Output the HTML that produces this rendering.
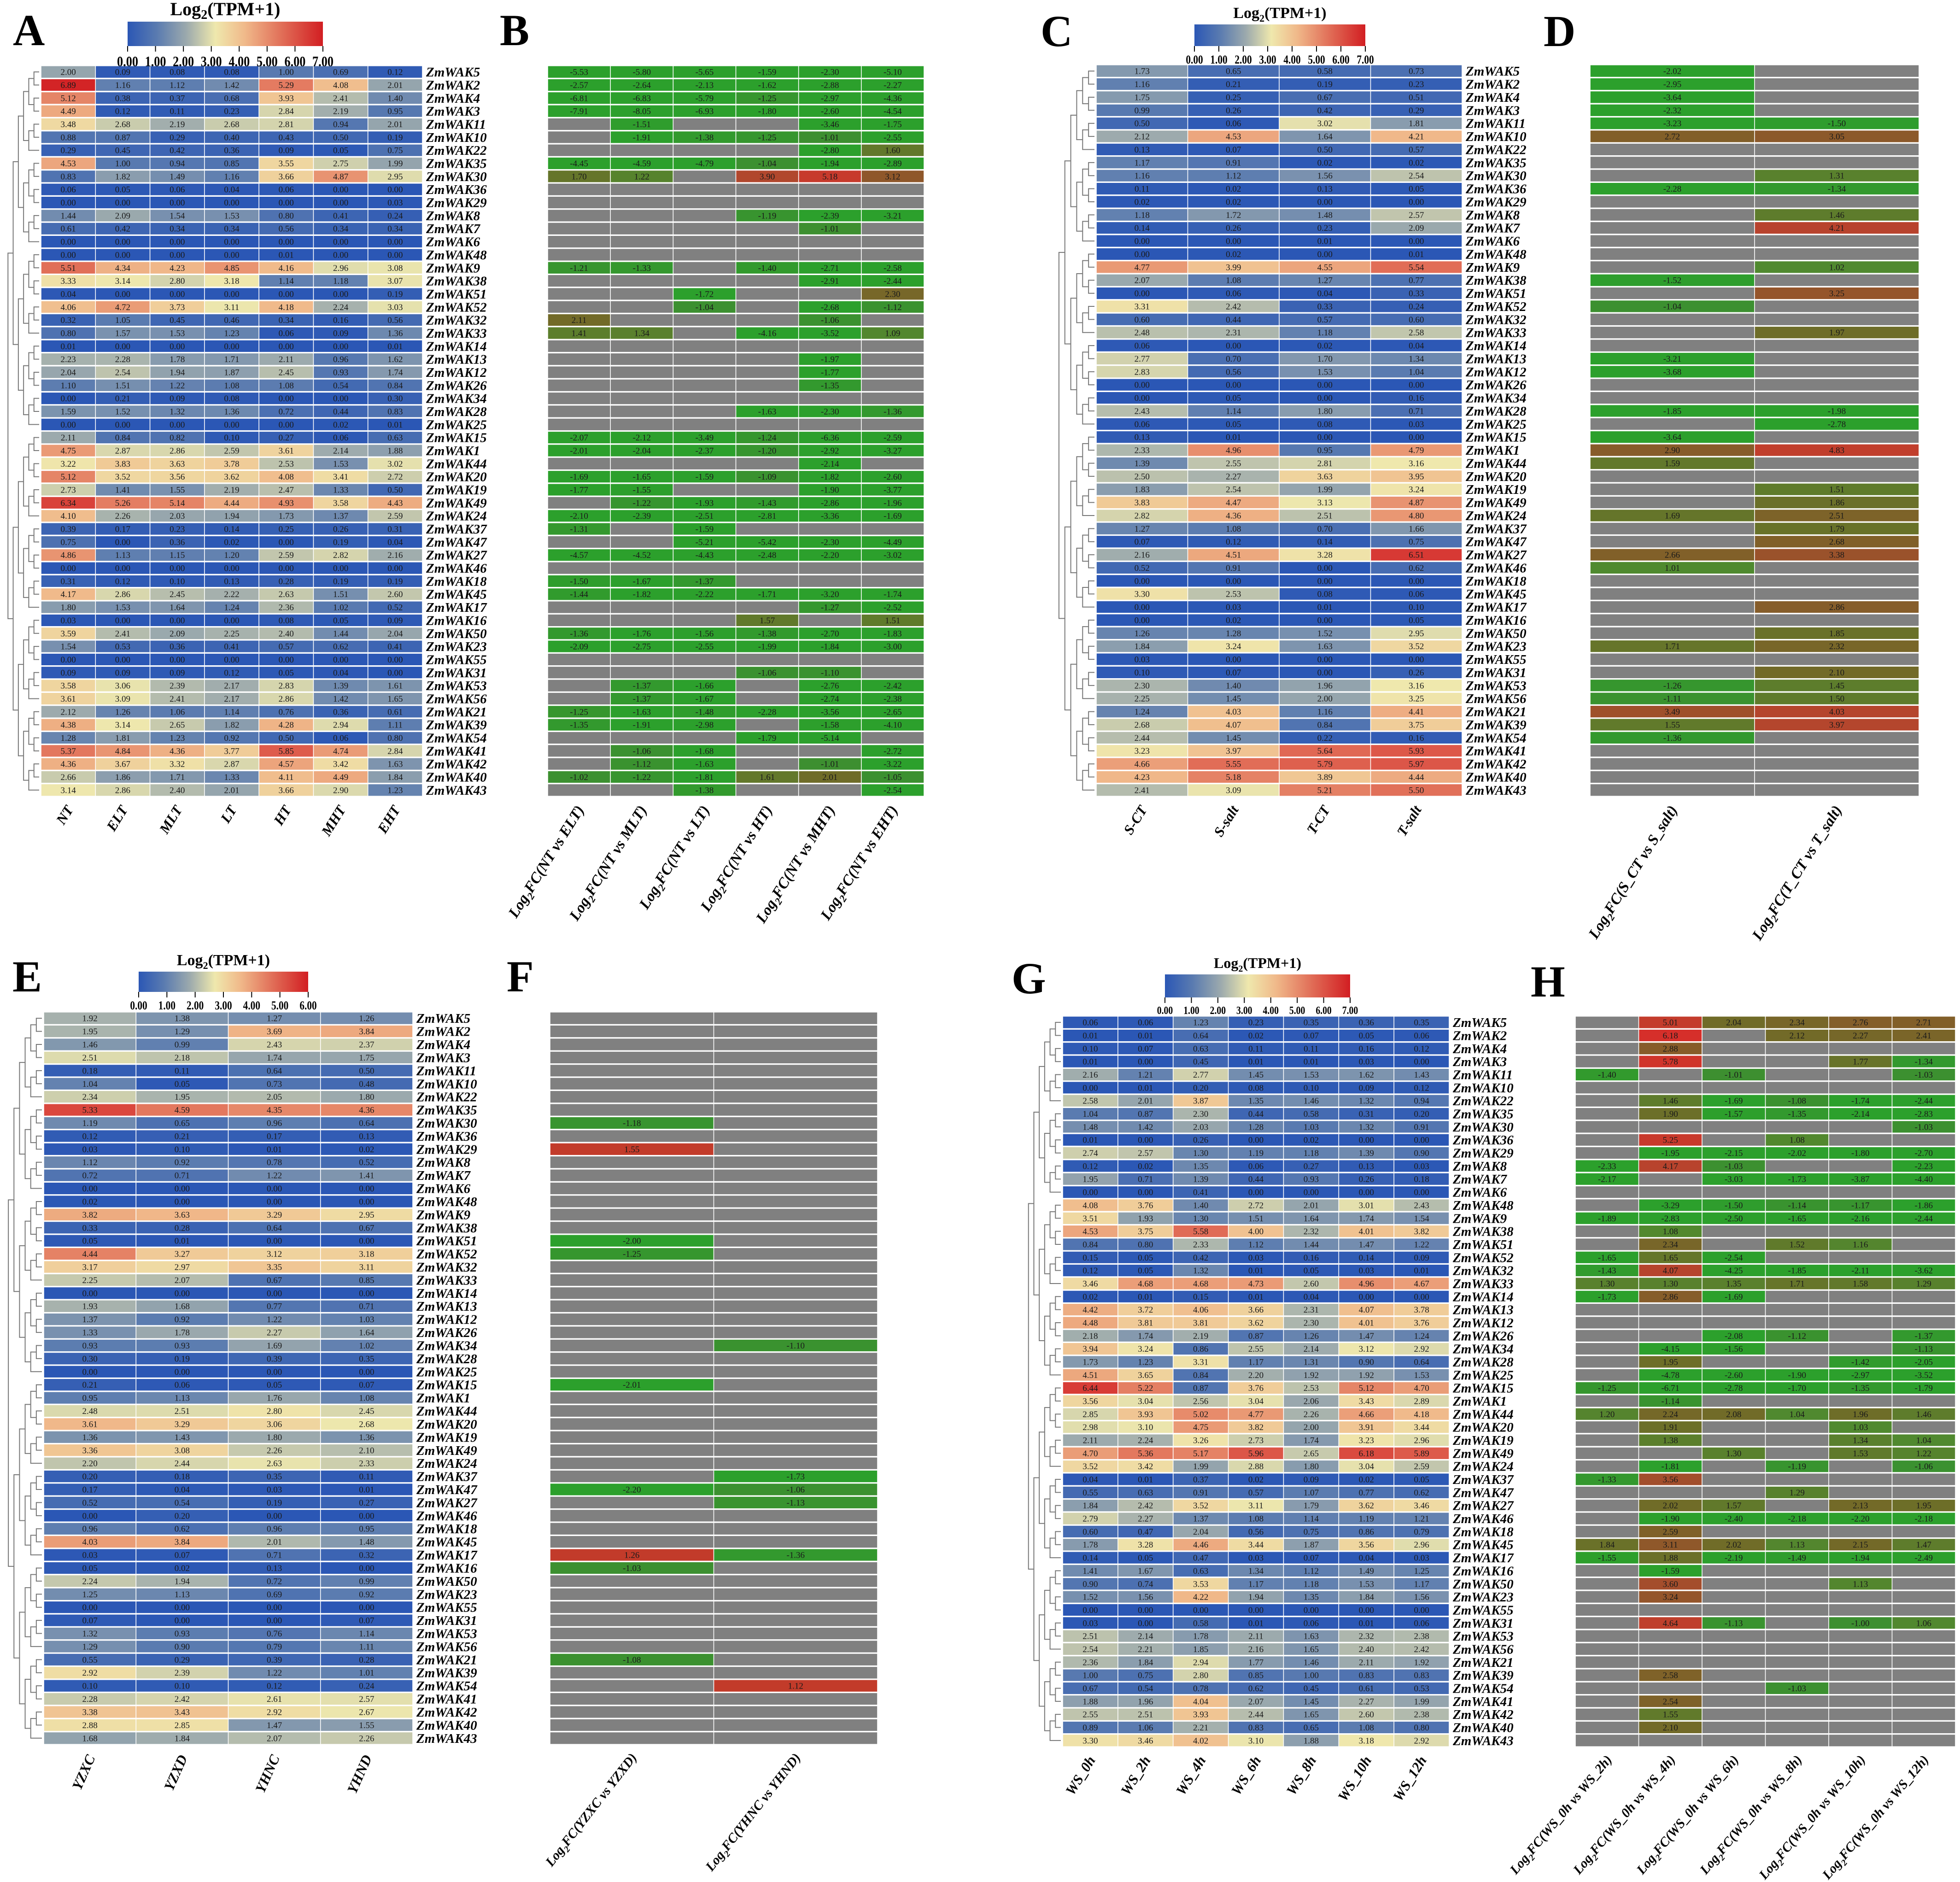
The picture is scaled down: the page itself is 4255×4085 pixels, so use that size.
<!DOCTYPE html>
<html><head><meta charset="utf-8">
<style>
html,body{margin:0;padding:0;background:#fff;}
svg{display:block;}
text{font-family:"Liberation Serif",serif;}
</style></head>
<body>
<svg id="fig" width="4255" height="4085" viewBox="0 0 4255 4085" xmlns="http://www.w3.org/2000/svg">
<defs>
<linearGradient id="cb" x1="0" x2="1" y1="0" y2="0">
<stop offset="0" stop-color="#2b57b5"/><stop offset="0.15" stop-color="#5a7bb0"/><stop offset="0.3" stop-color="#9ba9ad"/><stop offset="0.45" stop-color="#efe8ad"/><stop offset="0.6" stop-color="#f0b98a"/><stop offset="0.8" stop-color="#e06a55"/><stop offset="1" stop-color="#d21e22"/>
</linearGradient>
</defs>
</svg>
<script>
const N = null;
const genesA = ["ZmWAK5","ZmWAK2","ZmWAK4","ZmWAK3","ZmWAK11","ZmWAK10","ZmWAK22","ZmWAK35","ZmWAK30","ZmWAK36","ZmWAK29","ZmWAK8","ZmWAK7","ZmWAK6","ZmWAK48","ZmWAK9","ZmWAK38","ZmWAK51","ZmWAK52","ZmWAK32","ZmWAK33","ZmWAK14","ZmWAK13","ZmWAK12","ZmWAK26","ZmWAK34","ZmWAK28","ZmWAK25","ZmWAK15","ZmWAK1","ZmWAK44","ZmWAK20","ZmWAK19","ZmWAK49","ZmWAK24","ZmWAK37","ZmWAK47","ZmWAK27","ZmWAK46","ZmWAK18","ZmWAK45","ZmWAK17","ZmWAK16","ZmWAK50","ZmWAK23","ZmWAK55","ZmWAK31","ZmWAK53","ZmWAK56","ZmWAK21","ZmWAK39","ZmWAK54","ZmWAK41","ZmWAK42","ZmWAK40","ZmWAK43"];
const colsA = ["NT","ELT","MLT","LT","HT","MHT","EHT"];
const colsB = ["NT vs ELT","NT vs MLT","NT vs LT","NT vs HT","NT vs MHT","NT vs EHT"];
const colsC = ["S-CT","S-salt","T-CT","T-salt"];
const colsD = ["S_CT vs S_salt","T_CT vs T_salt"];
const colsE = ["YZXC","YZXD","YHNC","YHND"];
const colsF = ["YZXC vs YZXD","YHNC vs YHND"];
const colsG = ["WS_0h","WS_2h","WS_4h","WS_6h","WS_8h","WS_10h","WS_12h"];
const colsH = ["WS_0h vs WS_2h","WS_0h vs WS_4h","WS_0h vs WS_6h","WS_0h vs WS_8h","WS_0h vs WS_10h","WS_0h vs WS_12h"];
const cbTicks7 = ["0.00","1.00","2.00","3.00","4.00","5.00","6.00","7.00"];
const cbTicks6 = ["0.00","1.00","2.00","3.00","4.00","5.00","6.00"];

const valsA = [
[2.00,0.09,0.08,0.08,1.00,0.69,0.12],[6.89,1.16,1.12,1.42,5.29,4.08,2.01],[5.12,0.38,0.37,0.68,3.93,2.41,1.40],[4.49,0.12,0.11,0.23,2.84,2.19,0.95],
[3.48,2.68,2.19,2.68,2.81,0.94,2.01],[0.88,0.87,0.29,0.40,0.43,0.50,0.19],[0.29,0.45,0.42,0.36,0.09,0.05,0.75],[4.53,1.00,0.94,0.85,3.55,2.75,1.99],
[0.83,1.82,1.49,1.16,3.66,4.87,2.95],[0.06,0.05,0.06,0.04,0.06,0.00,0.00],[0.00,0.00,0.00,0.00,0.00,0.00,0.03],[1.44,2.09,1.54,1.53,0.80,0.41,0.24],
[0.61,0.42,0.34,0.34,0.56,0.34,0.34],[0.00,0.00,0.00,0.00,0.00,0.00,0.00],[0.00,0.00,0.00,0.00,0.01,0.00,0.00],[5.51,4.34,4.23,4.85,4.16,2.96,3.08],
[3.33,3.14,2.80,3.18,1.14,1.18,3.07],[0.04,0.00,0.00,0.00,0.00,0.00,0.19],[4.06,4.72,3.73,3.11,4.18,2.24,3.03],[0.32,1.05,0.45,0.46,0.34,0.16,0.56],
[0.80,1.57,1.53,1.23,0.06,0.09,1.36],[0.01,0.00,0.00,0.00,0.00,0.00,0.01],[2.23,2.28,1.78,1.71,2.11,0.96,1.62],[2.04,2.54,1.94,1.87,2.45,0.93,1.74],
[1.10,1.51,1.22,1.08,1.08,0.54,0.84],[0.00,0.21,0.09,0.08,0.00,0.00,0.30],[1.59,1.52,1.32,1.36,0.72,0.44,0.83],[0.00,0.00,0.00,0.00,0.00,0.02,0.01],
[2.11,0.84,0.82,0.10,0.27,0.06,0.63],[4.75,2.87,2.86,2.59,3.61,2.14,1.88],[3.22,3.83,3.63,3.78,2.53,1.53,3.02],[5.12,3.52,3.56,3.62,4.08,3.41,2.72],
[2.73,1.41,1.55,2.19,2.47,1.33,0.50],[6.34,5.26,5.14,4.44,4.93,3.58,4.43],[4.10,2.26,2.03,1.94,1.73,1.37,2.59],[0.39,0.17,0.23,0.14,0.25,0.26,0.31],
[0.75,0.00,0.36,0.02,0.00,0.19,0.04],[4.86,1.13,1.15,1.20,2.59,2.82,2.16],[0.00,0.00,0.00,0.00,0.00,0.00,0.00],[0.31,0.12,0.10,0.13,0.28,0.19,0.19],
[4.17,2.86,2.45,2.22,2.63,1.51,2.60],[1.80,1.53,1.64,1.24,2.36,1.02,0.52],[0.03,0.00,0.00,0.00,0.08,0.05,0.09],[3.59,2.41,2.09,2.25,2.40,1.44,2.04],
[1.54,0.53,0.36,0.41,0.57,0.62,0.41],[0.00,0.00,0.00,0.00,0.00,0.00,0.00],[0.09,0.09,0.09,0.12,0.05,0.04,0.00],[3.58,3.06,2.39,2.17,2.83,1.39,1.61],
[3.61,3.09,2.41,2.17,2.86,1.42,1.65],[2.12,1.26,1.06,1.14,0.76,0.36,0.61],[4.38,3.14,2.65,1.82,4.28,2.94,1.11],[1.28,1.81,1.23,0.92,0.50,0.06,0.80],
[5.37,4.84,4.36,3.77,5.85,4.74,2.84],[4.36,3.67,3.32,2.87,4.57,3.42,1.63],[2.66,1.86,1.71,1.33,4.11,4.49,1.84],[3.14,2.86,2.40,2.01,3.66,2.90,1.23]];

const valsB = [
[-5.53,-5.80,-5.65,-1.59,-2.30,-5.10],[-2.57,-2.64,-2.13,-1.62,-2.88,-2.27],[-6.81,-6.83,-5.79,-1.25,-2.97,-4.36],[-7.91,-8.05,-6.93,-1.80,-2.60,-4.54],
[N,-1.51,N,N,-3.46,-1.75],[N,-1.91,-1.38,-1.25,-1.01,-2.55],[N,N,N,N,-2.80,1.60],[-4.45,-4.59,-4.79,-1.04,-1.94,-2.89],
[1.70,1.22,N,3.90,5.18,3.12],[N,N,N,N,N,N],[N,N,N,N,N,N],[N,N,N,-1.19,-2.39,-3.21],
[N,N,N,N,-1.01,N],[N,N,N,N,N,N],[N,N,N,N,N,N],[-1.21,-1.33,N,-1.40,-2.71,-2.58],
[N,N,N,N,-2.91,-2.44],[N,N,-1.72,N,N,2.30],[N,N,-1.04,N,-2.68,-1.12],[2.11,N,N,N,-1.06,N],
[1.41,1.34,N,-4.16,-3.52,1.09],[N,N,N,N,N,N],[N,N,N,N,-1.97,N],[N,N,N,N,-1.77,N],
[N,N,N,N,-1.35,N],[N,N,N,N,N,N],[N,N,N,-1.63,-2.30,-1.36],[N,N,N,N,N,N],
[-2.07,-2.12,-3.49,-1.24,-6.36,-2.59],[-2.01,-2.04,-2.37,-1.20,-2.92,-3.27],[N,N,N,N,-2.14,N],[-1.69,-1.65,-1.59,-1.09,-1.82,-2.60],
[-1.77,-1.55,N,N,-1.90,-3.77],[N,-1.22,-1.93,-1.43,-2.86,-1.96],[-2.10,-2.39,-2.51,-2.81,-3.36,-1.69],[-1.31,N,-1.59,N,N,N],
[N,N,-5.21,-5.42,-2.30,-4.49],[-4.57,-4.52,-4.43,-2.48,-2.20,-3.02],[N,N,N,N,N,N],[-1.50,-1.67,-1.37,N,N,N],
[-1.44,-1.82,-2.22,-1.71,-3.20,-1.74],[N,N,N,N,-1.27,-2.52],[N,N,N,1.57,N,1.51],[-1.36,-1.76,-1.56,-1.38,-2.70,-1.83],
[-2.09,-2.75,-2.55,-1.99,-1.84,-3.00],[N,N,N,N,N,N],[N,N,N,-1.06,-1.10,N],[N,-1.37,-1.66,N,-2.76,-2.42],
[N,-1.37,-1.67,N,-2.74,-2.38],[-1.25,-1.63,-1.48,-2.28,-3.56,-2.65],[-1.35,-1.91,-2.98,N,-1.58,-4.10],[N,N,N,-1.79,-5.14,N],
[N,-1.06,-1.68,N,N,-2.72],[N,-1.12,-1.63,N,-1.01,-3.22],[-1.02,-1.22,-1.81,1.61,2.01,-1.05],[N,N,-1.38,N,N,-2.54]];

const valsC = [
[1.73,0.65,0.58,0.73],[1.16,0.21,0.19,0.23],[1.75,0.25,0.67,0.51],[0.99,0.26,0.42,0.29],[0.50,0.06,3.02,1.81],[2.12,4.53,1.64,4.21],
[0.13,0.07,0.50,0.57],[1.17,0.91,0.02,0.02],[1.16,1.12,1.56,2.54],[0.11,0.02,0.13,0.05],[0.02,0.02,0.00,0.00],[1.18,1.72,1.48,2.57],
[0.14,0.26,0.23,2.09],[0.00,0.00,0.01,0.00],[0.00,0.02,0.00,0.01],[4.77,3.99,4.55,5.54],[2.07,1.08,1.27,0.77],[0.00,0.06,0.04,0.33],
[3.31,2.42,0.33,0.24],[0.60,0.44,0.57,0.60],[2.48,2.31,1.18,2.58],[0.06,0.00,0.02,0.04],[2.77,0.70,1.70,1.34],[2.83,0.56,1.53,1.04],
[0.00,0.00,0.00,0.00],[0.00,0.05,0.00,0.16],[2.43,1.14,1.80,0.71],[0.06,0.05,0.08,0.03],[0.13,0.01,0.00,0.00],[2.33,4.96,0.95,4.79],
[1.39,2.55,2.81,3.16],[2.50,2.27,3.63,3.95],[1.83,2.54,1.99,3.24],[3.83,4.47,3.13,4.87],[2.82,4.36,2.51,4.80],[1.27,1.08,0.70,1.66],
[0.07,0.12,0.14,0.75],[2.16,4.51,3.28,6.51],[0.52,0.91,0.00,0.62],[0.00,0.00,0.00,0.00],[3.30,2.53,0.08,0.06],[0.00,0.03,0.01,0.10],
[0.00,0.02,0.00,0.05],[1.26,1.28,1.52,2.95],[1.84,3.24,1.63,3.52],[0.03,0.00,0.00,0.00],[0.10,0.07,0.00,0.26],[2.30,1.40,1.96,3.16],
[2.25,1.45,2.00,3.25],[1.24,4.03,1.16,4.41],[2.68,4.07,0.84,3.75],[2.44,1.45,0.22,0.16],[3.23,3.97,5.64,5.93],[4.66,5.55,5.79,5.97],
[4.23,5.18,3.89,4.44],[2.41,3.09,5.21,5.50]];

const valsD = [
[-2.02,N],[-2.95,N],[-3.64,N],[-2.32,N],[-3.23,-1.50],[2.72,3.05],[N,N],[N,N],[N,1.31],[-2.28,-1.34],[N,N],[N,1.46],[N,4.21],[N,N],
[N,N],[N,1.02],[-1.52,N],[N,3.25],[-1.04,N],[N,N],[N,1.97],[N,N],[-3.21,N],[-3.68,N],[N,N],[N,N],[-1.85,-1.98],[N,-2.78],
[-3.64,N],[2.90,4.83],[1.59,N],[N,N],[N,1.51],[N,1.86],[1.69,2.51],[N,1.79],[N,2.68],[2.66,3.38],[1.01,N],[N,N],[N,N],[N,2.86],
[N,N],[N,1.85],[1.71,2.32],[N,N],[N,2.10],[-1.26,1.45],[-1.11,1.50],[3.49,4.03],[1.55,3.97],[-1.36,N],[N,N],[N,N],[N,N],[N,N]];

const valsE = [
[1.92,1.38,1.27,1.26],[1.95,1.29,3.69,3.84],[1.46,0.99,2.43,2.37],[2.51,2.18,1.74,1.75],[0.18,0.11,0.64,0.50],[1.04,0.05,0.73,0.48],
[2.34,1.95,2.05,1.80],[5.33,4.59,4.35,4.36],[1.19,0.65,0.96,0.64],[0.12,0.21,0.17,0.13],[0.03,0.10,0.01,0.02],[1.12,0.92,0.78,0.52],
[0.72,0.71,1.22,1.41],[0.00,0.00,0.00,0.00],[0.02,0.00,0.00,0.00],[3.82,3.63,3.29,2.95],[0.33,0.28,0.64,0.67],[0.05,0.01,0.00,0.00],
[4.44,3.27,3.12,3.18],[3.17,2.97,3.35,3.11],[2.25,2.07,0.67,0.85],[0.00,0.00,0.00,0.00],[1.93,1.68,0.77,0.71],[1.37,0.92,1.22,1.03],
[1.33,1.78,2.27,1.64],[0.93,0.93,1.69,1.02],[0.30,0.19,0.39,0.35],[0.00,0.00,0.00,0.00],[0.21,0.06,0.05,0.07],[0.95,1.13,1.76,1.08],
[2.48,2.51,2.80,2.45],[3.61,3.29,3.06,2.68],[1.36,1.43,1.80,1.36],[3.36,3.08,2.26,2.10],[2.20,2.44,2.63,2.33],[0.20,0.18,0.35,0.11],
[0.17,0.04,0.03,0.01],[0.52,0.54,0.19,0.27],[0.00,0.20,0.00,0.00],[0.96,0.62,0.96,0.95],[4.03,3.84,2.01,1.48],[0.03,0.07,0.71,0.32],
[0.05,0.02,0.13,0.00],[2.24,1.94,0.72,0.99],[1.25,1.13,0.69,0.92],[0.00,0.00,0.00,0.00],[0.07,0.00,0.00,0.07],[1.32,0.93,0.76,1.14],
[1.29,0.90,0.79,1.11],[0.55,0.29,0.39,0.28],[2.92,2.39,1.22,1.01],[0.10,0.10,0.12,0.24],[2.28,2.42,2.61,2.57],[3.38,3.43,2.92,2.67],
[2.88,2.85,1.47,1.55],[1.68,1.84,2.07,2.26]];

const valsF = [
[N,N],[N,N],[N,N],[N,N],[N,N],[N,N],[N,N],[N,N],[-1.18,N],[N,N],[1.55,N],[N,N],[N,N],[N,N],[N,N],[N,N],[N,N],[-2.00,N],[-1.25,N],[N,N],
[N,N],[N,N],[N,N],[N,N],[N,N],[N,-1.10],[N,N],[N,N],[-2.01,N],[N,N],[N,N],[N,N],[N,N],[N,N],[N,N],[N,-1.73],[-2.20,-1.06],[N,-1.13],
[N,N],[N,N],[N,N],[1.26,-1.36],[-1.03,N],[N,N],[N,N],[N,N],[N,N],[N,N],[N,N],[-1.08,N],[N,N],[N,1.12],[N,N],[N,N],[N,N],[N,N]];

const valsG = [
[0.06,0.06,1.23,0.23,0.35,0.36,0.35],[0.01,0.01,0.64,0.02,0.07,0.05,0.06],[0.10,0.07,0.63,0.11,0.11,0.16,0.12],[0.01,0.00,0.45,0.01,0.01,0.03,0.00],
[2.16,1.21,2.77,1.45,1.53,1.62,1.43],[0.00,0.01,0.20,0.08,0.10,0.09,0.12],[2.58,2.01,3.87,1.35,1.46,1.32,0.94],[1.04,0.87,2.30,0.44,0.58,0.31,0.20],
[1.48,1.42,2.03,1.28,1.03,1.32,0.91],[0.01,0.00,0.26,0.00,0.02,0.00,0.00],[2.74,2.57,1.30,1.19,1.18,1.39,0.90],[0.12,0.02,1.35,0.06,0.27,0.13,0.03],
[1.95,0.71,1.39,0.44,0.93,0.26,0.18],[0.00,0.00,0.41,0.00,0.00,0.00,0.00],[4.08,3.76,1.40,2.72,2.01,3.01,2.43],[3.51,1.93,1.30,1.51,1.64,1.74,1.54],
[4.53,3.75,5.58,4.00,2.32,4.01,3.82],[0.84,0.80,2.33,1.12,1.44,1.47,1.22],[0.15,0.05,0.42,0.03,0.16,0.14,0.09],[0.12,0.05,1.32,0.01,0.05,0.03,0.01],
[3.46,4.68,4.68,4.73,2.60,4.96,4.67],[0.02,0.01,0.15,0.01,0.04,0.00,0.00],[4.42,3.72,4.06,3.66,2.31,4.07,3.78],[4.48,3.81,3.81,3.62,2.30,4.01,3.76],
[2.18,1.74,2.19,0.87,1.26,1.47,1.24],[3.94,3.24,0.86,2.55,2.14,3.12,2.92],[1.73,1.23,3.31,1.17,1.31,0.90,0.64],[4.51,3.65,0.84,2.20,1.92,1.92,1.53],
[6.44,5.22,0.87,3.76,2.53,5.12,4.70],[3.56,3.04,2.56,3.04,2.06,3.43,2.89],[2.85,3.93,5.02,4.77,2.26,4.66,4.18],[2.98,3.10,4.75,3.82,2.00,3.91,3.44],
[2.11,2.24,3.26,2.73,1.74,3.23,2.96],[4.70,5.36,5.17,5.96,2.65,6.18,5.89],[3.52,3.42,1.99,2.88,1.80,3.04,2.59],[0.04,0.01,0.37,0.02,0.09,0.02,0.05],
[0.55,0.63,0.91,0.57,1.07,0.77,0.62],[1.84,2.42,3.52,3.11,1.79,3.62,3.46],[2.79,2.27,1.37,1.08,1.14,1.19,1.21],[0.60,0.47,2.04,0.56,0.75,0.86,0.79],
[1.78,3.28,4.46,3.44,1.87,3.56,2.96],[0.14,0.05,0.47,0.03,0.07,0.04,0.03],[1.41,1.67,0.63,1.34,1.12,1.49,1.25],[0.90,0.74,3.53,1.17,1.18,1.53,1.17],
[1.52,1.56,4.22,1.94,1.35,1.84,1.56],[0.00,0.00,0.00,0.00,0.00,0.00,0.00],[0.03,0.00,0.58,0.01,0.06,0.01,0.06],[2.51,2.14,1.78,2.11,1.63,2.32,2.38],
[2.54,2.21,1.85,2.16,1.65,2.40,2.42],[2.36,1.84,2.94,1.77,1.46,2.11,1.92],[1.00,0.75,2.80,0.85,1.00,0.83,0.83],[0.67,0.54,0.78,0.62,0.45,0.61,0.53],
[1.88,1.96,4.04,2.07,1.45,2.27,1.99],[2.55,2.51,3.93,2.44,1.65,2.60,2.38],[0.89,1.06,2.21,0.83,0.65,1.08,0.80],[3.30,3.46,4.02,3.10,1.88,3.18,2.92]];

const valsH = [
[N,5.01,2.04,2.34,2.76,2.71],[N,6.18,N,2.12,2.27,2.41],[N,2.88,N,N,N,N],[N,5.78,N,N,1.77,-1.34],[-1.40,N,-1.01,N,N,-1.03],[N,N,N,N,N,N],
[N,1.46,-1.69,-1.08,-1.74,-2.44],[N,1.90,-1.57,-1.35,-2.14,-2.83],[N,N,N,N,N,-1.03],[N,5.25,N,1.08,N,N],[N,-1.95,-2.15,-2.02,-1.80,-2.70],
[-2.33,4.17,-1.03,N,N,-2.23],[-2.17,N,-3.03,-1.73,-3.87,-4.40],[N,N,N,N,N,N],[N,-3.29,-1.50,-1.14,-1.17,-1.86],[-1.89,-2.83,-2.50,-1.65,-2.16,-2.44],
[N,1.08,N,N,N,N],[N,2.34,N,1.52,1.16,N],[-1.65,1.65,-2.54,N,N,N],[-1.43,4.07,-4.25,-1.85,-2.11,-3.62],[1.30,1.30,1.35,1.71,1.58,1.29],
[-1.73,2.86,-1.69,N,N,N],[N,N,N,N,N,N],[N,N,N,N,N,N],[N,N,-2.08,-1.12,N,-1.37],[N,-4.15,-1.56,N,N,-1.13],[N,1.95,N,N,-1.42,-2.05],
[N,-4.78,-2.60,-1.90,-2.97,-3.52],[-1.25,-6.71,-2.78,-1.70,-1.35,-1.79],[N,-1.14,N,N,N,N],[1.20,2.24,2.08,1.04,1.96,1.46],[N,1.91,N,N,1.03,N],
[N,1.38,N,N,1.34,1.04],[N,N,1.30,N,1.53,1.22],[N,-1.81,N,-1.19,N,-1.06],[-1.33,3.56,N,N,N,N],[N,N,N,1.29,N,N],[N,2.02,1.57,N,2.13,1.95],
[N,-1.90,-2.40,-2.18,-2.20,-2.18],[N,2.59,N,N,N,N],[1.84,3.11,2.02,1.13,2.15,1.47],[-1.55,1.88,-2.19,-1.49,-1.94,-2.49],[N,-1.59,N,N,N,N],
[N,3.60,N,N,1.13,N],[N,3.24,N,N,N,N],[N,N,N,N,N,N],[N,4.64,-1.13,N,-1.00,1.06],[N,N,N,N,N,N],[N,N,N,N,N,N],[N,N,N,N,N,N],
[N,2.58,N,N,N,N],[N,N,N,-1.03,N,N],[N,2.54,N,N,N,N],[N,1.55,N,N,N,N],[N,2.10,N,N,N,N],[N,N,N,N,N,N]];

const NS = "http://www.w3.org/2000/svg";
const svg = document.getElementById("fig");
function el(tag, attrs, parent){ const e=document.createElementNS(NS,tag); for(const k in attrs) e.setAttribute(k,attrs[k]); (parent||svg).appendChild(e); return e; }
function hex(c){return [parseInt(c.slice(1,3),16),parseInt(c.slice(3,5),16),parseInt(c.slice(5,7),16)];}
function lerpStops(stops,t){
  if(t<=stops[0][0]) return stops[0][1];
  for(let i=1;i<stops.length;i++){ if(t<=stops[i][0]){ const a=stops[i-1],b=stops[i]; const f=(t-a[0])/(b[0]-a[0]); const A=hex(a[1]),B=hex(b[1]); return "rgb("+A.map((v,j)=>Math.round(v+(B[j]-v)*f)).join(",")+")"; } }
  return stops[stops.length-1][1];
}
const exprStops=[[0,"#2b57b5"],[0.15,"#5a7bb0"],[0.3,"#9ba9ad"],[0.45,"#efe8ad"],[0.6,"#f0b98a"],[0.8,"#e06a55"],[1,"#d21e22"]];
const posStops=[[1,"#4f8a2f"],[2,"#6f6c28"],[3,"#8a5a2a"],[4,"#b5452d"],[5,"#c43c2c"],[6.2,"#d62f2a"]];
const negStops=[[1,"#3d8f30"],[1.6,"#2ca02c"]];
function fcColor(v,redPos){ if(v===null) return "#808080"; if(v>0 && redPos) return "#c23b2a"; return v>0? lerpStops(posStops,v) : lerpStops(negStops,-v); }

function letter(ch,x,y){ const t=el("text",{x:x,y:y,"font-size":96,"font-weight":"bold",fill:"#000"}); t.textContent=ch;
  
   }

function colorbar(id,x0,x1,y0,y1,ticks,fs){
  const g=el("g",{});
  
  
  const title=el("text",{x:(x0+x1)/2,y:y0-14,"font-size":fs+8,"font-weight":"bold","text-anchor":"middle"},g);
  title.textContent="Log";
  const sub=el("tspan",{"font-size":fs-4,dy:8},title); sub.textContent="2";
  const rest=el("tspan",{dy:-8},title); rest.textContent="(TPM+1)";
  
  
  el("rect",{x:x0,y:y0,width:x1-x0,height:y1-y0,fill:"url(#cb)"},g);
  const n=ticks.length-1;
  ticks.forEach((lab,i)=>{ const x=x0+(x1-x0)*i/n; el("line",{x1:x,x2:x,y1:y1,y2:y1+12,stroke:"#000","stroke-width":2},g);
    const t=el("text",{x:x,y:y1+12+fs,"font-size":fs,"font-weight":"bold","text-anchor":"middle",transform:"translate("+x+",0) scale(0.82,1) translate("+(-x)+",0)"},g); t.textContent=lab;
    
     });
}

function dendro(x0,x1,y0,pitch,n){
  const g=el("g",{stroke:"#777","stroke-width":2,fill:"none"});
  
  
  const step=(x1-x0)/7;
  function rec(lo,hi){
    if(lo===hi) return {y:y0+pitch*(lo+0.5),x:x1-4};
    const mid=Math.floor((lo+hi)/2);
    const a=rec(lo,mid), b=rec(mid+1,hi);
    const x=Math.min(a.x,b.x)-step;
    el("path",{d:"M"+a.x+" "+a.y+"H"+x+"V"+b.y+"H"+b.x},g);
    return {y:(a.y+b.y)/2,x:x};
  }
  rec(0,n-1);
}

function heatmap(id,vals,cols,genes,x0,x1,y0,y1,opts){
  const g=el("g",{});
  
  
  const nr=vals.length, nc=cols.length, cw=(x1-x0)/nc, rh=(y1-y0)/nr;
  for(let r=0;r<nr;r++) for(let c=0;c<nc;c++){
    const v=vals[r][c];
    const fill=opts.fc? fcColor(v,opts.redPos) : lerpStops(exprStops, Math.min(1,v/opts.max));
    const rc=el("rect",{x:x0+c*cw+0.8,y:y0+r*rh+1.6,width:cw-1.6,height:rh-3.2,fill:fill},g);
    
    
    if(v!==null){ const t=el("text",{x:x0+(c+0.5)*cw,y:y0+(r+0.5)*rh+6.5,"font-size":19,"text-anchor":"middle",fill:"#1a1a1a"},g); t.textContent=v.toFixed(2);
      
       }
  }
  if(genes){ genes.forEach((gn,r)=>{ const t=el("text",{x:x1+8,y:y0+(r+0.5)*rh+10,"font-size":29,"font-weight":"bold","font-style":"italic"},g); t.textContent=gn;
    
     }); }
  const fs=opts.lfs||(opts.fc?33:31);
  cols.forEach((lab,c)=>{
    const cx=x0+(c+0.5)*cw+12, cy=y1+28;
    const t=el("text",{x:cx,y:cy,"font-size":fs,"font-weight":"bold","font-style":"italic","text-anchor":"end",transform:"rotate("+(opts.ang||-58)+" "+cx+" "+cy+")"},g);
    if(opts.fc){ t.textContent="Log"; const s=el("tspan",{"font-size":Math.round(fs*0.67),dy:8},t); s.textContent="2"; const rr=el("tspan",{dy:-8},t); rr.textContent="FC("+lab+")"; }
    else t.textContent=lab;
    
    
  });
}

// Panel A/B
letter("A",28,98); colorbar("a",277,701,47,100,cbTicks7,32);
dendro(10,89,142,(1729-142)/56,56);
heatmap("a",valsA,colsA,genesA,89,917,142,1729,{max:7});
letter("B",1085,98);
heatmap("b",valsB,colsB,null,1189,2006,142,1729,{fc:true});
// Panel C/D
letter("C",2259,100); colorbar("c",2593,2964,53,100,cbTicks7,26);
dendro(2290,2380,140,(1729-140)/56,56);
heatmap("c",valsC,colsC,genesA,2380,3174,140,1729,{max:7});
letter("D",3351,100);
heatmap("d",valsD,colsD,null,3452,4166,140,1729,{fc:true});
// Panel E/F
letter("E",27,2152); colorbar("e",301,669,2109,2153,cbTicks6,26);
dendro(10,95,2196,(3787-2196)/56,56);
heatmap("e",valsE,colsE,genesA,95,896,2196,3787,{max:6,ang:-66});
letter("F",1100,2152);
heatmap("f",valsF,colsF,null,1194,1905,2196,3787,{fc:true,redPos:true,ang:-52,lfs:29});
// Panel G/H
letter("G",2196,2156); colorbar("g",2529,2931,2115,2165,cbTicks7,24);
dendro(2225,2307,2205,(3792-2205)/56,56);
heatmap("g",valsG,colsG,genesA,2307,3146,2205,3792,{max:7});
letter("H",3323,2163);
heatmap("h",valsH,colsH,null,3420,4245,2205,3792,{fc:true,ang:-50,lfs:29});
</script>
</body></html>
